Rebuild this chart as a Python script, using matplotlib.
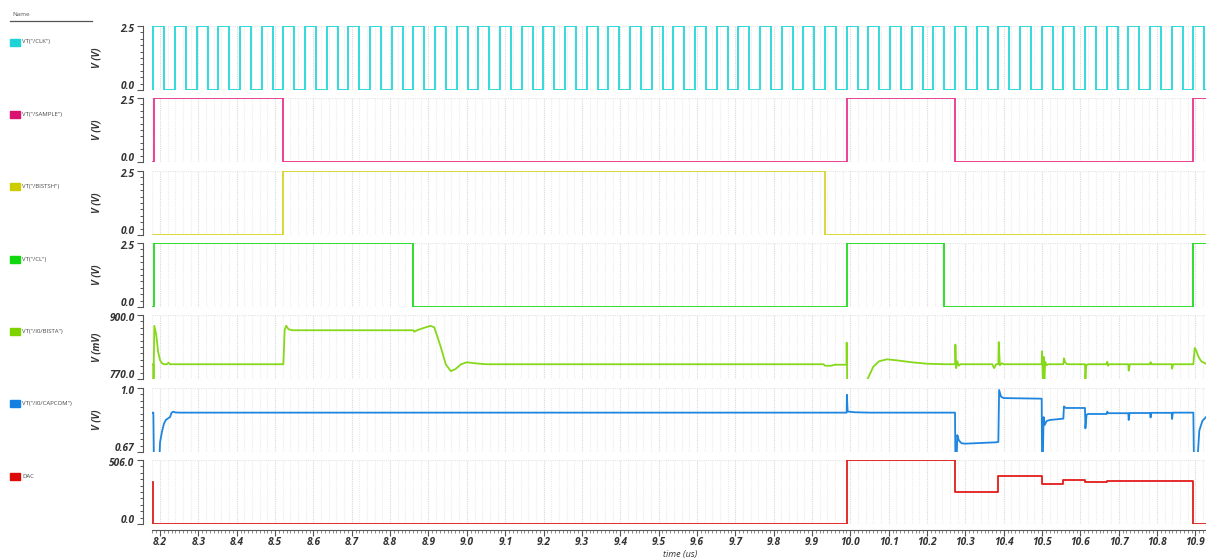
import matplotlib
matplotlib.use("Agg")
import matplotlib.pyplot as plt
import numpy as np
from matplotlib.ticker import FixedLocator, NullFormatter

# time axis (us)
t_start = 8.181
t_end = 10.9275

# clock edges
clk_rise = [8.1825, 8.239, 8.2955, 8.352, 8.4085, 8.465, 8.5215, 8.578, 8.6345, 8.691,
            8.7475, 8.804, 8.8605, 8.917, 8.9735, 9.03, 9.0865, 9.143, 9.1995, 9.256,
            9.3125, 9.369, 9.4255, 9.482, 9.5385, 9.595, 9.6515, 9.708, 9.7645, 9.821,
            9.8775, 9.934, 9.9905, 10.047, 10.1035, 10.16, 10.2165, 10.273, 10.3295, 10.386,
            10.4425, 10.499, 10.5555, 10.612, 10.6685, 10.725, 10.7815, 10.838, 10.8945]
clk_fall = [8.2108, 8.2673, 8.3238, 8.3803, 8.4368, 8.4933, 8.5498, 8.6063, 8.6628, 8.7193,
            8.7758, 8.8323, 8.8888, 8.9453, 9.0018, 9.0583, 9.1148, 9.1713, 9.2278, 9.2843,
            9.3408, 9.3973, 9.4538, 9.5103, 9.5668, 9.6233, 9.6798, 9.7363, 9.7928, 9.8493,
            9.9058, 9.9623, 10.0188, 10.0753, 10.1318, 10.1883, 10.2448, 10.3013, 10.3578, 10.4143,
            10.4708, 10.5273, 10.5838, 10.6403, 10.6968, 10.7533, 10.8098, 10.8663, 10.9228]

sample_t = [8.181, 8.1835, 8.5215, 9.9905, 10.273, 10.8945]
sample_v = [0.0, 2.5, 0.0, 2.5, 0.0, 2.5]

bistsh_t = [8.181, 8.5215, 9.934]
bistsh_v = [0.0, 2.5, 0.0]

cl_t = [8.181, 8.1835, 8.8605, 9.9905, 10.2448, 10.8945]
cl_v = [0.0, 2.5, 0.0, 2.5, 0.0, 2.5]

bista_t = [8.181, 8.1825, 8.183, 8.185, 8.19, 8.195, 8.2, 8.205, 8.21, 8.218, 8.222, 8.226,
           8.5215, 8.525, 8.529, 8.535, 8.545, 8.8605, 8.863, 8.87, 8.885, 8.905, 8.915,
           8.93, 8.945, 8.958, 8.97, 8.985, 9.0, 9.02, 9.05, 9.93, 9.934, 9.95, 9.96, 9.99,
           9.9905, 9.992, 10.04, 10.045, 10.06, 10.075, 10.095, 10.12, 10.16, 10.2, 10.25,
           10.273, 10.274, 10.276, 10.279, 10.283, 10.287, 10.37, 10.375, 10.38, 10.386,
           10.387, 10.39, 10.395, 10.4, 10.499, 10.5, 10.502, 10.504, 10.506, 10.508, 10.512,
           10.516, 10.5555, 10.557, 10.56, 10.565, 10.612, 10.613, 10.615, 10.62, 10.6685,
           10.67, 10.672, 10.675, 10.725, 10.726, 10.729, 10.7815, 10.783, 10.786, 10.838,
           10.839, 10.842, 10.8945, 10.898, 10.902, 10.908, 10.915, 10.9275]
bista_v = [800, 800, 760, 878, 860, 825, 808, 802, 800, 800, 803, 800,
           800, 870, 878, 871, 869, 869, 866, 869, 873, 878, 875,
           840, 800, 786, 790, 800, 804, 802, 800, 800, 797, 797, 799, 799,
           844, 760, 760, 770, 795, 806, 810, 808, 804, 801, 800,
           800, 840, 792, 806, 797, 800, 800, 792, 800, 800,
           845, 798, 802, 800, 800, 826, 770, 815, 760, 805, 798,
           800, 800, 812, 804, 800, 800, 768, 798, 800, 800,
           805, 797, 800, 800, 787, 800, 800, 804, 800, 800,
           791, 800, 800, 833, 828, 815, 806, 801]

capcom_t = [8.181, 8.1825, 8.184, 8.198, 8.2, 8.205, 8.21, 8.215, 8.222, 8.226, 8.23, 8.234,
            8.24, 8.25, 9.9905, 9.991, 9.993, 9.996, 10.01, 10.05, 10.273, 10.274, 10.277,
            10.279, 10.283, 10.29, 10.3, 10.38, 10.386, 10.388, 10.393, 10.4, 10.499, 10.5,
            10.502, 10.504, 10.507, 10.512, 10.52, 10.5555, 10.557, 10.562, 10.612, 10.613,
            10.616, 10.62, 10.6685, 10.67, 10.673, 10.725, 10.726, 10.728, 10.7815, 10.783,
            10.785, 10.838, 10.839, 10.841, 10.8945, 10.896, 10.905, 10.91, 10.918, 10.9275]
capcom_v = [0.873, 0.873, 0.62, 0.62, 0.72, 0.775, 0.815, 0.835, 0.845, 0.85, 0.872, 0.878,
            0.874, 0.873, 0.873, 0.965, 0.88, 0.878, 0.875, 0.873, 0.873, 0.62, 0.62,
            0.757, 0.73, 0.715, 0.713, 0.72, 0.722, 0.99, 0.955, 0.948, 0.945, 0.62,
            0.62, 0.85, 0.81, 0.83, 0.835, 0.842, 0.905, 0.897, 0.897, 0.792,
            0.862, 0.866, 0.866, 0.878, 0.87, 0.87, 0.835, 0.871, 0.871, 0.848,
            0.872, 0.872, 0.84, 0.873, 0.873, 0.62, 0.62, 0.78, 0.83, 0.85]

dac_t = [8.181, 8.1825, 9.9905, 10.273, 10.386, 10.499, 10.5555, 10.612, 10.6685, 10.725, 10.8945]
dac_v = [334, 0, 506, 253, 379, 316, 348, 332, 340, 337, 0]

names = ['VT("/CLK")', 'VT("/SAMPLE")', 'VT("/BISTSH")', 'VT("/CL")',
         'VT("/I0/BISTA")', 'VT("/I0/CAPCOM")', 'DAC']
colors = ["#22d8dc", "#e8348f", "#d8d428", "#1edc1e", "#86d81a", "#1f86e0", "#e41b1b"]
swatch = ["#1ed2d6", "#d8126e", "#cccc00", "#0fd80f", "#7ed200", "#137fe0", "#dd0a0a"]
ylabels = ["V (V)", "V (V)", "V (V)", "V (V)", "V (mV)", "V (V)", ""]
ylims = [(0.0, 2.5), (0.0, 2.5), (0.0, 2.5), (0.0, 2.5), (770.0, 900.0), (0.67, 1.0), (0.0, 506.0)]
yticklabels = [["0.0", "2.5"], ["0.0", "2.5"], ["0.0", "2.5"], ["0.0", "2.5"],
               ["770.0", "900.0"], ["0.67", "1.0"], ["0.0", "506.0"]]
panel_px = [(26, 90), (98, 162), (171, 235), (243, 307), (315, 379), (388, 452), (460, 524)]
legend_y = [42, 115, 187, 259, 331, 403, 476]

W, H = 1206, 560
fig = plt.figure(figsize=(W / 100, H / 100), dpi=100)

tick_font = dict(family="Open Sans", style="italic", weight="bold", size=7.3)
grid_x = np.arange(8.18, 10.93, 0.02)

axes = []
for i in range(7):
    top, bot = panel_px[i]
    ax = fig.add_axes([152 / W, 1 - bot / H, (W - 152) / W, (bot - top) / H])
    axes.append(ax)
    ax.set_xlim(t_start - 0.002, t_end)
    ax.set_ylim(*ylims[i])
    for s in ["top", "right", "bottom"]:
        ax.spines[s].set_visible(False)
    ax.spines["left"].set_position(("outward", 6.5))
    ax.spines["left"].set_color("#555555")
    lo, hi = ylims[i]
    ax.yaxis.set_major_locator(FixedLocator([lo, hi]))
    ax.yaxis.set_minor_locator(FixedLocator(np.linspace(lo, hi, 11)[1:-1]))
    ax.yaxis.set_major_formatter(NullFormatter())
    ax.tick_params(axis="y", which="major", length=4, width=0.8, color="#555555", pad=2)
    ax.tick_params(axis="y", which="minor", length=2.5, width=0.7, color="#555555")
    # end labels drawn by hand, nudged a little so neighbouring panels do not collide
    for val, txt, dy in [(lo, yticklabels[i][0], 2.6), (hi, yticklabels[i][1], -2.6)]:
        ax.annotate(txt, xy=(0, val), xycoords=("axes fraction", "data"),
                    xytext=(-12.5, dy), textcoords="offset points",
                    ha="right", va="center", color="#333333", **tick_font)
    ax.set_ylabel(ylabels[i], fontsize=7, style="italic", weight="bold",
                  family="Open Sans", color="#333333")
    ax.yaxis.set_label_coords(-0.047, 0.5)
    # light dotted grid
    for g in grid_x:
        major = abs(g * 10 - round(g * 10)) < 1e-6
        ax.axvline(g, color="#d8d8d8" if major else "#ececec", lw=0.8, ls=(0, (1, 1)), zorder=0)
    ax.axhline(lo, color="#e4e4e4", lw=0.8, ls=(0, (1, 1)), zorder=0)
    ax.axhline(hi, color="#e4e4e4", lw=0.8, ls=(0, (1, 1)), zorder=0)
    if i < 6:
        ax.tick_params(axis="x", which="both", bottom=False, labelbottom=False)

lw = 1.3
# CLK
clk_t = [t_start]
clk_v = [0.0]
for r, f in zip(clk_rise, clk_fall):
    clk_t += [r, f]
    clk_v += [2.5, 0.0]
axes[0].plot(clk_t + [t_end], clk_v + [clk_v[-1]], drawstyle="steps-post", color=colors[0], lw=lw)
axes[1].plot(sample_t + [t_end], sample_v + [sample_v[-1]], drawstyle="steps-post", color=colors[1], lw=lw)
axes[2].plot(bistsh_t + [t_end], bistsh_v + [bistsh_v[-1]], drawstyle="steps-post", color=colors[2], lw=lw)
axes[3].plot(cl_t + [t_end], cl_v + [cl_v[-1]], drawstyle="steps-post", color=colors[3], lw=lw)
axes[4].plot(bista_t, bista_v, color=colors[4], lw=lw)
axes[5].plot(capcom_t, capcom_v, color=colors[5], lw=lw)
axes[6].plot(dac_t + [t_end], dac_v + [dac_v[-1]], drawstyle="steps-post", color=colors[6], lw=lw)

# bottom time axis
axd = axes[6]
axd.spines["bottom"].set_visible(True)
axd.spines["bottom"].set_position(("outward", 4))
axd.spines["bottom"].set_color("#555555")
xt = np.round(np.arange(8.2, 10.95, 0.1), 1)
axd.xaxis.set_major_locator(FixedLocator(xt))
axd.xaxis.set_minor_locator(FixedLocator(np.arange(8.18, 10.93, 0.01)))
axd.set_xticklabels(["{:.1f}".format(v) for v in xt])
for lab in axd.get_xticklabels():
    lab.set(**tick_font, color="#333333")
axd.tick_params(axis="x", which="major", length=4, width=0.8, color="#555555", pad=1.5)
axd.tick_params(axis="x", which="minor", length=2.5, width=0.6, color="#777777")
fig.text(680 / W, 1 - 555 / H, "time (us)", ha="center", va="center", fontsize=6.5,
         style="italic", family="Open Sans", color="#333333")

# left name list
fig.text(12 / W, 1 - 14 / H, "Name", fontsize=4.5, color="#555555", va="center", family="Open Sans")
fig.add_artist(plt.Line2D([10 / W, 92 / W], [1 - 21 / H, 1 - 21 / H], color="#555555", lw=0.9))
for i in range(7):
    yc = 1 - legend_y[i] / H
    fig.add_artist(plt.Rectangle((10 / W, yc - 3.5 / H), 10 / W, 7 / H, color=swatch[i]))
    fig.text(22 / W, yc, names[i], fontsize=4.3, color="#444444", va="center", family="Open Sans")

fig.savefig("out.png", dpi=100)
